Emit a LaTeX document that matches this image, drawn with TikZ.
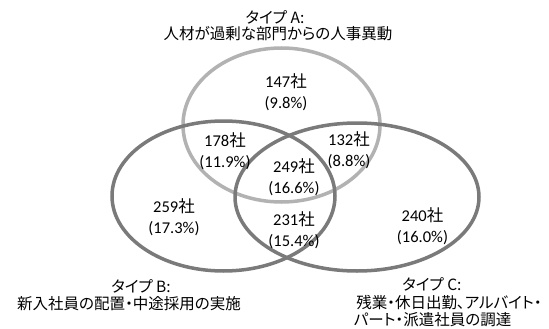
\documentclass[tikz,border=0pt]{standalone}
\usepackage{fontspec}
\newfontfamily\jp[RawFeature=+palt]{Noto Sans CJK JP}
\newfontfamily\numf{Carlito}
\definecolor{lightc}{RGB}{178,178,178}
\definecolor{darkc}{RGB}{122,122,122}
\newcommand{\vennlbl}[2]{{\numf #1}{\jp 社}\\{\numf (#2\%)}}
\tikzset{
  setA/.style={draw=lightc, line width=3.5pt},
  setBC/.style={draw=darkc, line width=3.5pt},
  cnt/.style={inner sep=0pt, align=center, font=\numf\fontsize{16.5}{21}\selectfont},
  ttl/.style={inner sep=0pt, font=\jp\fontsize{15.5}{17}\selectfont}
}
\begin{document}
\begin{tikzpicture}[x=1pt,y=-1pt]
\useasboundingbox[fill=white] (0,0) rectangle (549,329);
\draw[setA] (281.5,125) ellipse [x radius=98.5, y radius=77];
\draw[setBC] (223.5,196) ellipse [x radius=111.5, y radius=75];
\draw[setBC] (357,197) ellipse [x radius=122, y radius=74];
\node[cnt] (nA) at (286,92.5) {\vennlbl{147}{9.8}};
\node[cnt] (nAB) at (225,151.5) {\vennlbl{178}{11.9}};
\node[cnt] (nAC) at (349,150) {\vennlbl{132}{8.8}};
\node[cnt] (nABC) at (294,177) {\vennlbl{249}{16.6}};
\node[cnt] (nBC) at (294,230) {\vennlbl{231}{15.4}};
\node[cnt] (nB) at (174,217.5) {\vennlbl{259}{17.3}};
\node[cnt] (nC) at (422.5,226) {\vennlbl{240}{16.0}};
\node[ttl] (tA1) at (275,17) {タイプ A:};
\node[ttl] (tA2) at (278,34) {人材が過剰な部門からの人事異動};
\node[ttl] (tB1) at (141,286) {タイプ B:};
\node[ttl] (tB2) at (129,304) {新入社員の配置・中途採用の実施};
\node[ttl] (tC1) at (432,284) {タイプ C:};
\node[ttl] (tC2) at (449,303) {残業・休日出勤、アルバイト・};
\node[ttl] (tC3) at (432.5,320) {パート・派遣社員の調達};
\end{tikzpicture}
\end{document}
